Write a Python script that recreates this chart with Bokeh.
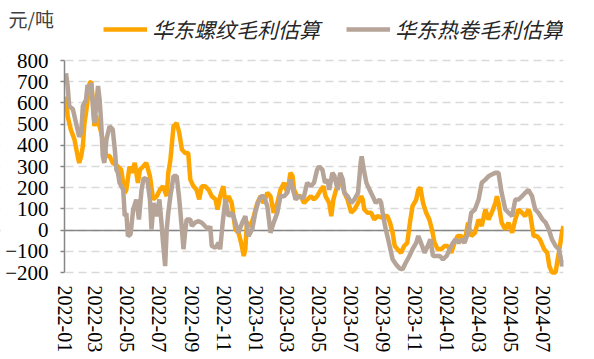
import pandas as pd
from bokeh.plotting import figure
from bokeh.models import (Range1d, FixedTicker, DatetimeTickFormatter, Label, Grid,
                          BoxAnnotation, Legend, LegendItem)
from bokeh.embed import file_html
from bokeh.resources import INLINE

# ---------------- data ----------------
y_unit = "元/吨"
rebar_name = "华东螺纹毛利估算"
hrc_name = "华东热卷毛利估算"
x_tick_labels = ["2022-01", "2022-03", "2022-05", "2022-07", "2022-09", "2022-11",
                 "2023-01", "2023-03", "2023-05", "2023-07", "2023-09", "2023-11",
                 "2024-01", "2024-03", "2024-05", "2024-07"]
y_ticks = [-200, -100, 0, 100, 200, 300, 400, 500, 600, 700, 800]

hrc_dates = [
    "2022-01-04", "2022-01-07", "2022-01-10", "2022-01-17", "2022-01-23", "2022-01-29", "2022-02-02",
    "2022-02-05", "2022-02-11", "2022-02-14", "2022-02-18", "2022-02-21", "2022-02-24", "2022-02-27",
    "2022-03-02", "2022-03-06", "2022-03-09", "2022-03-12", "2022-03-15", "2022-03-18", "2022-03-22",
    "2022-03-28", "2022-04-03", "2022-04-07", "2022-04-10", "2022-04-13", "2022-04-16", "2022-04-23",
    "2022-04-26", "2022-04-29", "2022-05-02", "2022-05-07", "2022-05-12", "2022-05-18", "2022-05-23",
    "2022-05-28", "2022-06-01", "2022-06-08", "2022-06-13", "2022-06-16", "2022-06-20", "2022-06-26",
    "2022-07-01", "2022-07-05", "2022-07-08", "2022-07-12", "2022-07-15", "2022-07-18", "2022-07-22",
    "2022-07-28", "2022-08-03", "2022-08-08", "2022-08-13", "2022-08-16", "2022-08-19", "2022-08-22",
    "2022-08-29", "2022-09-01", "2022-09-07", "2022-09-14", "2022-09-20", "2022-09-26", "2022-10-03",
    "2022-10-06", "2022-10-09", "2022-10-16", "2022-10-22", "2022-10-25", "2022-10-30", "2022-11-04",
    "2022-11-10", "2022-11-17", "2022-11-23", "2022-11-29", "2022-12-06", "2022-12-12", "2022-12-18",
    "2022-12-25", "2022-12-31", "2023-01-05", "2023-01-11", "2023-01-16", "2023-01-23", "2023-01-29",
    "2023-02-04", "2023-02-11", "2023-02-17", "2023-02-24", "2023-03-02", "2023-03-08", "2023-03-13",
    "2023-03-18", "2023-03-24", "2023-03-31", "2023-04-03", "2023-04-09", "2023-04-16", "2023-04-22",
    "2023-04-28", "2023-05-02", "2023-05-08", "2023-05-13", "2023-05-18", "2023-05-21", "2023-05-27",
    "2023-05-31", "2023-06-06", "2023-06-11", "2023-06-16", "2023-06-19", "2023-06-25", "2023-07-02",
    "2023-07-08", "2023-07-15", "2023-07-20", "2023-07-22", "2023-07-26", "2023-07-31", "2023-08-06",
    "2023-08-12", "2023-08-18", "2023-08-25", "2023-08-28", "2023-09-01", "2023-09-06", "2023-09-12",
    "2023-09-19", "2023-09-25", "2023-10-02", "2023-10-08", "2023-10-14", "2023-10-21", "2023-10-27",
    "2023-11-03", "2023-11-07", "2023-11-12", "2023-11-19", "2023-11-25", "2023-11-30", "2023-12-05",
    "2023-12-11", "2023-12-18", "2023-12-24", "2023-12-31", "2024-01-06", "2024-01-12", "2024-01-17",
    "2024-01-23", "2024-01-28", "2024-02-03", "2024-02-10", "2024-02-16", "2024-02-23", "2024-03-01",
    "2024-03-07", "2024-03-14", "2024-03-20", "2024-03-26", "2024-04-02", "2024-04-08", "2024-04-11",
    "2024-04-14", "2024-04-21", "2024-04-27", "2024-05-04", "2024-05-10", "2024-05-16", "2024-05-23",
    "2024-05-29", "2024-06-04", "2024-06-11", "2024-06-17", "2024-06-23", "2024-07-01", "2024-07-07",
    "2024-07-13", "2024-07-19", "2024-07-26", "2024-08-01", "2024-08-04", "2024-08-07", "2024-08-10"]
hrc_values = [
    740, 680, 585, 570, 505, 440, 460,
    585, 615, 685, 660, 695, 585, 505,
    570, 680, 615, 505, 350, 317, 427,
    490, 475, 380, 285, 270, 223, 190,
    66, 80, -28, -20, 97, 144, 50,
    190, 246, 238, 145, 3, 128, 66,
    145, 35, -60, -170, 3, 82, 160,
    255, 255, 145, 3, -90, -13, 50,
    50, 19, 35, 42, 35, 19, 3,
    19, -75, -83, -60, -90, 40, 145,
    66, 82, 35, -13, 35, 66, -28,
    3, 82, 128, 160, 160, 113, -13,
    35, 82, 160, 160, 176, 238, 190,
    144, 160, 150, 160, 223, 207, 223,
    285, 300, 285, 223, 238, 190, 270,
    255, 190, 270, 238, 176, 160, 128,
    144, 176, 317, 348, 285, 223, 190,
    160, 128, 144, 130, 66, 3, -60,
    -138, -160, -180, -185, -154, -122, -90,
    -60, -28, -60, -107, -75, -44, -122,
    -122, -122, -138, -122, -90, -60, -44,
    -60, -44, -60, -13, 82, 97, 144,
    223, 238, 254, 262, 270, 270, 223,
    176, 97, 82, 66, 144, 144, 160,
    176, 190, 160, 97, 82, 50, 35,
    3, -44, -75, -90, -122, -170, -140]

rebar_dates = [
    "2022-01-04", "2022-01-07", "2022-01-13", "2022-01-20", "2022-01-26", "2022-01-29", "2022-02-02",
    "2022-02-05", "2022-02-08", "2022-02-11", "2022-02-18", "2022-02-21", "2022-02-24", "2022-02-27",
    "2022-03-02", "2022-03-06", "2022-03-09", "2022-03-15", "2022-03-22", "2022-03-28", "2022-04-03",
    "2022-04-13", "2022-04-19", "2022-04-26", "2022-04-29", "2022-05-05", "2022-05-09", "2022-05-15",
    "2022-05-21", "2022-05-25", "2022-05-31", "2022-06-06", "2022-06-13", "2022-06-19", "2022-06-26",
    "2022-07-02", "2022-07-08", "2022-07-15", "2022-07-18", "2022-07-22", "2022-07-28", "2022-08-03",
    "2022-08-08", "2022-08-13", "2022-08-19", "2022-08-25", "2022-08-29", "2022-09-04", "2022-09-10",
    "2022-09-15", "2022-09-20", "2022-09-26", "2022-10-03", "2022-10-09", "2022-10-16", "2022-10-20",
    "2022-10-25", "2022-10-31", "2022-11-04", "2022-11-10", "2022-11-16", "2022-11-23", "2022-11-29",
    "2022-12-04", "2022-12-09", "2022-12-12", "2022-12-15", "2022-12-22", "2022-12-28", "2023-01-04",
    "2023-01-10", "2023-01-16", "2023-01-23", "2023-01-29", "2023-02-04", "2023-02-11", "2023-02-17",
    "2023-02-24", "2023-03-02", "2023-03-08", "2023-03-12", "2023-03-15", "2023-03-21", "2023-03-28",
    "2023-04-03", "2023-04-09", "2023-04-16", "2023-04-22", "2023-04-28", "2023-05-05", "2023-05-10",
    "2023-05-14", "2023-05-21", "2023-05-25", "2023-05-29", "2023-06-03", "2023-06-09", "2023-06-14",
    "2023-06-19", "2023-06-25", "2023-07-02", "2023-07-08", "2023-07-15", "2023-07-21", "2023-07-24",
    "2023-07-27", "2023-08-02", "2023-08-09", "2023-08-15", "2023-08-21", "2023-08-28", "2023-09-03",
    "2023-09-09", "2023-09-14", "2023-09-19", "2023-09-23", "2023-09-28", "2023-10-05", "2023-10-11",
    "2023-10-17", "2023-10-22", "2023-10-27", "2023-11-03", "2023-11-07", "2023-11-11", "2023-11-16",
    "2023-11-22", "2023-11-28", "2023-12-03", "2023-12-08", "2023-12-14", "2023-12-21", "2023-12-27",
    "2024-01-02", "2024-01-09", "2024-01-15", "2024-01-21", "2024-01-28", "2024-02-03", "2024-02-10",
    "2024-02-16", "2024-02-23", "2024-03-01", "2024-03-07", "2024-03-14", "2024-03-20", "2024-03-26",
    "2024-04-02", "2024-04-05", "2024-04-08", "2024-04-14", "2024-04-21", "2024-04-27", "2024-05-04",
    "2024-05-10", "2024-05-16", "2024-05-23", "2024-05-29", "2024-06-04", "2024-06-07", "2024-06-14",
    "2024-06-20", "2024-06-26", "2024-07-04", "2024-07-10", "2024-07-14", "2024-07-19", "2024-07-26",
    "2024-07-29", "2024-08-01", "2024-08-04", "2024-08-07", "2024-08-10"]
rebar_values = [
    630, 537, 475, 427, 350, 317, 350,
    396, 505, 552, 695, 700, 615, 490,
    540, 505, 490, 427, 350, 350, 317,
    300, 285, 175, 190, 300, 270, 317,
    223, 285, 300, 317, 255, 145, 160,
    190, 207, 160, 270, 330, 490, 505,
    458, 380, 364, 364, 238, 207, 190,
    145, 207, 207, 190, 160, 145, 97,
    160, 207, 128, 160, 128, 3, -13,
    -60, -122, -90, 35, 19, 66, 128,
    160, 128, 176, 160, 82, 128, 190,
    223, 176, 270, 255, 190, 160, 160,
    128, 144, 160, 144, 160, 190, 207,
    160, 128, 66, 144, 190, 223, 223,
    176, 144, 82, 97, 128, 160, 144,
    97, 82, 82, 50, 66, 60, 66,
    66, 35, -13, -75, -90, -107, -75,
    -60, 35, 113, 144, 190, 200, 128,
    82, 50, 3, -60, -90, -90, -75,
    -75, -107, -60, -28, -28, -60, 35,
    -28, -13, 50, 19, 97, 50, 82,
    128, 160, 128, 35, 3, 35, -13,
    50, 97, 82, 66, 97, 82, -28,
    -28, -44, -90, -107, -170, -200, -200,
    -150, -107, -60, -13, 19]

rebar_color = "#FFA500"
hrc_color = "#B5A497"

# ---------------- layout constants (pixels from the canvas top-left) ----------------
W, H = 594, 359
AXIS_X = 64          # y axis
PLOT_RIGHT = 563     # last data point
TOP_TICK_PX = 60     # pixel row of the top y tick
LOW_TICK_PX = 272    # pixel row of the bottom y tick
FRAME_BOTTOM = 285   # x labels start here

rebar_x = pd.to_datetime(rebar_dates)
hrc_x = pd.to_datetime(hrc_dates)
tick_dt = pd.to_datetime([t + "-01" for t in x_tick_labels])
tick_ms = [int(t.value // 10**6) for t in tick_dt]

x_first = tick_dt[0]
x_last = max(rebar_x.max(), hrc_x.max())
x_start = x_first - (x_last - x_first) * (AXIS_X / (PLOT_RIGHT - AXIS_X))
px_per_unit = (LOW_TICK_PX - TOP_TICK_PX) / (y_ticks[-1] - y_ticks[0])
y_top = y_ticks[-1] + TOP_TICK_PX / px_per_unit
y_bot = y_ticks[0] - (FRAME_BOTTOM - LOW_TICK_PX) / px_per_unit

p = figure(width=W, height=H, x_axis_type="datetime", output_backend="svg",
           toolbar_location=None, min_border_left=0, min_border_right=W - PLOT_RIGHT,
           min_border_top=0, min_border_bottom=H - FRAME_BOTTOM)
p.x_range = Range1d(x_start, x_last)
p.y_range = Range1d(y_bot, y_top)
p.outline_line_color = None
p.background_fill_color = "white"
p.border_fill_color = "white"

p.xgrid.visible = False
p.ygrid.grid_line_color = "#D9D9D9"
p.ygrid.grid_line_width = 1.5
p.ygrid.grid_line_dash = "8 5"
p.ygrid.ticker = FixedTicker(ticks=y_ticks)
p.add_layout(Grid(dimension=1, ticker=FixedTicker(ticks=[0]),
                  grid_line_color="#868686", grid_line_width=1.5))
# keep the gridlines from running left of the y axis
p.add_layout(BoxAnnotation(right=tick_ms[0], fill_color="white", fill_alpha=1,
                           line_alpha=0, level="underlay"))

r_rebar = p.line(rebar_x, rebar_values, line_color=rebar_color, line_width=4.5)
r_hrc = p.line(hrc_x, hrc_values, line_color=hrc_color, line_width=4.5)

# y axis at the first tick date
p.yaxis.fixed_location = tick_ms[0]
p.yaxis.bounds = (y_ticks[0], y_ticks[-1])
p.yaxis.ticker = FixedTicker(ticks=y_ticks)
p.yaxis.axis_line_color = "#868686"
p.yaxis.axis_line_width = 1.5
p.yaxis.major_tick_line_color = "#868686"
p.yaxis.major_tick_line_width = 1.5
p.yaxis.major_tick_out = 4
p.yaxis.major_tick_in = 0
p.yaxis.minor_tick_line_color = None
p.yaxis.major_label_text_font = "Liberation Serif"
p.yaxis.major_label_text_font_size = "21px"
p.yaxis.major_label_text_color = "#000000"
p.yaxis.major_label_standoff = 12

p.xaxis.ticker = FixedTicker(ticks=tick_ms)
p.xaxis.formatter = DatetimeTickFormatter(days="%Y-%m", months="%Y-%m", years="%Y-%m")
p.xaxis.major_label_overrides = {ms: lab for ms, lab in zip(tick_ms, x_tick_labels)}
p.xaxis.axis_line_color = None
p.xaxis.major_tick_line_color = None
p.xaxis.major_tick_out = 0
p.xaxis.major_tick_in = 0
p.xaxis.minor_tick_line_color = None
p.xaxis.minor_tick_out = 0
p.xaxis.major_label_orientation = "vertical"
p.xaxis.major_label_text_font = "Liberation Serif"
p.xaxis.major_label_text_font_size = "20px"
p.xaxis.major_label_text_color = "#000000"
p.xaxis.major_label_standoff = 0

# unit label and legend in the empty band above the plot
frame_h = FRAME_BOTTOM
p.add_layout(Label(x=8, y=frame_h - 18, x_units="screen", y_units="screen", text=y_unit,
                   text_font="Noto Sans CJK SC", text_font_size="19px",
                   text_baseline="middle", text_color="#404040"))

legend = Legend(items=[LegendItem(label=rebar_name, renderers=[r_rebar]),
                       LegendItem(label=hrc_name, renderers=[r_hrc])],
                orientation="horizontal", location=(103, frame_h - 32 - 12),
                glyph_width=44, glyph_height=24, label_height=24, label_standoff=5, spacing=26,
                padding=0, margin=0, border_line_color=None, background_fill_alpha=0,
                label_text_font="Noto Sans CJK SC", label_text_font_style="italic",
                label_text_font_size="21px", label_text_color="#262626")
p.add_layout(legend)

open("out.html", "w").write(file_html(p, INLINE))
